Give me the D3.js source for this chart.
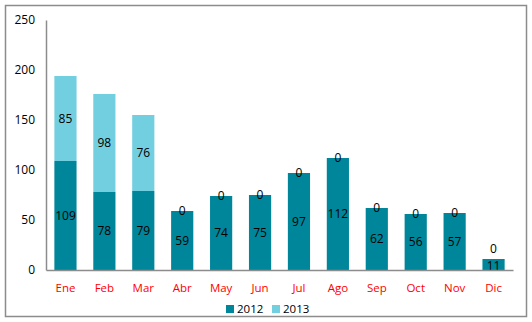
<!DOCTYPE html>
<html><head><meta charset="utf-8">
<script src="https://cdn.jsdelivr.net/npm/d3@7"></script>
<style>body{margin:0;background:#fff}svg{display:block}text{font-family:"Open Sans","Liberation Sans",sans-serif}</style>
</head><body><svg id="c" width="532" height="322"></svg>
<script>
const months = ["Ene","Feb","Mar","Abr","May","Jun","Jul","Ago","Sep","Oct","Nov","Dic"];
const v2012 = [109,78,79,59,74,75,97,112,62,56,57,11];
const v2013 = [85,98,76,0,0,0,0,0,0,0,0,0];
const yTicks = [0,50,100,150,200,250];
const seriesNames = ["2012","2013"];
const colors = ["#00869B","#72CFE0"];

const svg = d3.select("#c");
svg.append("rect").attr("x",5.5).attr("y",5.5).attr("width",521).attr("height",311)
  .attr("fill","#fff").attr("stroke","#8c8c8c").attr("stroke-width",1.5);

const x = d3.scaleBand().domain(months).range([46,513]).paddingInner(0.43).paddingOuter(0.215);
const y = d3.scaleLinear().domain([0,250]).range([270,20]);

const data = months.map((m,i)=>({m, "2012":v2012[i], "2013":v2013[i]}));
const stack = d3.stack().keys(seriesNames)(data);

const g = svg.append("g");
stack.forEach((s,si)=>{
  g.selectAll(null).data(s).join("rect")
    .attr("x",d=>x(d.data.m)).attr("width",x.bandwidth())
    .attr("y",d=>y(d[1])).attr("height",d=>y(d[0])-y(d[1]))
    .attr("fill",colors[si]);
});
// labels
stack.forEach((s,si)=>{
  g.selectAll(null).data(s).join("text")
    .attr("x",d=>x(d.data.m)+x.bandwidth()/2)
    .attr("y",d=>{
      let cy=(y(d[0])+y(d[1]))/2;
      if(si===0 && (y(d[0])-y(d[1]))<14) cy = y(d[0]) - 4;
      if(si===1 && d[1]-d[0]===0 && (y(0)-y(d[0]))<14) cy = y(d[1]) - 10;
      return cy;
    })
    .attr("dy","0.36em").attr("text-anchor","middle")
    .attr("font-size",12).attr("fill","#000")
    .text(d=>d[1]-d[0]);
});

// axes
const ya = svg.append("g").attr("transform","translate(46,0)")
  .call(d3.axisLeft(y).tickValues(yTicks).tickSize(0).tickPadding(11));
ya.select(".domain").attr("stroke","#8c8c8c").attr("stroke-width",1.5);
ya.selectAll("text").attr("font-size",12).attr("fill","#000").attr("font-family","'Open Sans','Liberation Sans',sans-serif");

const xa = svg.append("g").attr("transform","translate(0,270)")
  .call(d3.axisBottom(x).tickSize(0).tickPadding(14));
xa.select(".domain").attr("stroke","#8c8c8c").attr("stroke-width",1.5);
xa.selectAll("text").attr("font-size",11.5).attr("fill","#ff0000").attr("font-family","'Open Sans','Liberation Sans',sans-serif");

// legend
const lg = svg.append("g");
const lx = [226,272];
seriesNames.forEach((n,i)=>{
  lg.append("rect").attr("x",lx[i]).attr("y",305).attr("width",8).attr("height",8).attr("fill",colors[i]);
  lg.append("text").attr("x",lx[i]+11).attr("y",309).attr("dy","0.36em")
    .attr("font-size",11.5).attr("fill","#000").text(n);
});
</script></body></html>
